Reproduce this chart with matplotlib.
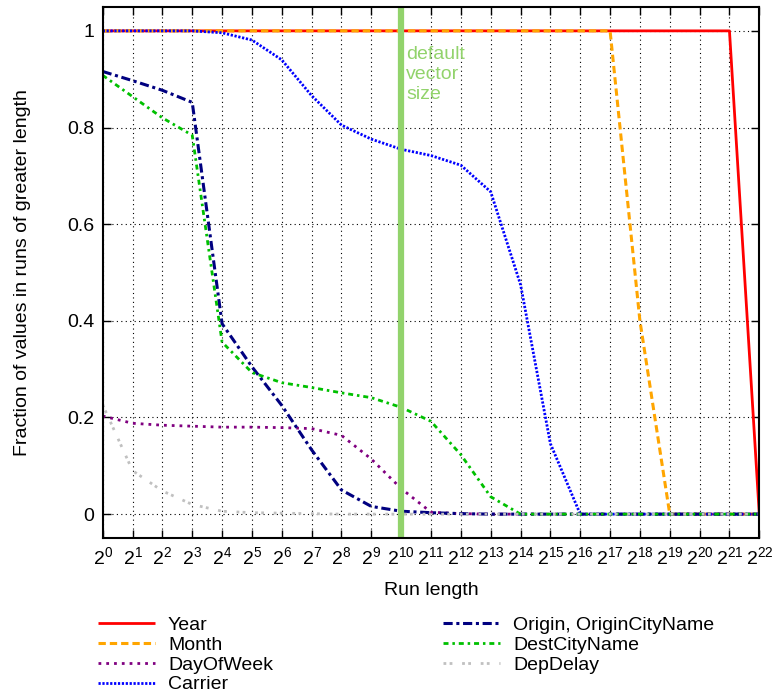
import numpy as np
import matplotlib
matplotlib.use("Agg")
import matplotlib.pyplot as plt

plt.rcParams['font.family'] = ['Liberation Sans', 'DejaVu Sans']
plt.rcParams['mathtext.fontset'] = 'custom'
plt.rcParams['mathtext.rm'] = 'Liberation Sans'
plt.rcParams['mathtext.it'] = 'Liberation Sans:italic'
plt.rcParams['mathtext.bf'] = 'Liberation Sans:bold'

# ---- data (exponent k -> run length 2^k) ----
exponents = list(range(0, 23))
year = [1.0] * 22 + [0.0]
month = [1.0] * 18 + [0.4, 0.0, 0.0, 0.0, 0.0]
day_of_week = [0.203, 0.188, 0.184, 0.182, 0.180, 0.180, 0.179, 0.177, 0.163, 0.114,
               0.053, 0.004, 0.001, 0.0, 0.0, 0.0, 0.0, 0.0, 0.0, 0.0, 0.0, 0.0, 0.0]
carrier = [1.0, 1.0, 1.0, 1.0, 0.996, 0.981, 0.94, 0.866, 0.805, 0.776, 0.755, 0.742,
           0.722, 0.667, 0.475, 0.146, 0.0, 0.0, 0.0, 0.0, 0.0, 0.0, 0.0]
origin = [0.916, 0.897, 0.877, 0.852, 0.394, 0.305, 0.225, 0.133, 0.05, 0.016, 0.006,
          0.003, 0.001, 0.0, 0.0, 0.0, 0.0, 0.0, 0.0, 0.0, 0.0, 0.0, 0.0]
dest_city = [0.908, 0.864, 0.82, 0.784, 0.356, 0.293, 0.272, 0.262, 0.251, 0.241, 0.221,
             0.192, 0.123, 0.036, 0.0, 0.0, 0.0, 0.0, 0.0, 0.0, 0.0, 0.0, 0.0]
dep_delay = [0.226, 0.09, 0.048, 0.02, 0.006, 0.003, 0.002, 0.001, 0.0, 0.0, 0.0, 0.0,
             0.0, 0.0, 0.0, 0.0, 0.0, 0.0, 0.0, 0.0, 0.0, 0.0, 0.0]
default_vector_exp = 10
labels = ["Year", "Month", "DayOfWeek", "Carrier",
          "Origin, OriginCityName", "DestCityName", "DepDelay"]

x = 2.0 ** np.array(exponents)

fig = plt.figure(figsize=(7.76, 6.97), dpi=100)
L, R, T, B = 102.7, 759.3, 6.7, 538.3
W, H = 776, 697
ax = fig.add_axes([L / W, 1 - B / H, (R - L) / W, (B - T) / H])

styles = [
    dict(color='#ff0000', lw=2.0, ls='-'),
    dict(color='#ffa500', lw=2.2, ls=(0, (2.4, 1.3))),
    dict(color='#800080', lw=2.0, ls=(0, (1.0, 1.8))),
    dict(color='#0000ff', lw=2.0, ls=(0, (0.8, 0.6))),
    dict(color='#000080', lw=2.2, ls=(0, (3.0, 1.2, 1.0, 1.2))),
    dict(color='#00c000', lw=2.0, ls=(0, (1.8, 1.4, 0.9, 1.4))),
    dict(color='#c0c0c0', lw=2.0, ls=(0, (1.0, 1.2, 1.0, 3.5))),
]
series = [year, month, day_of_week, carrier, origin, dest_city, dep_delay]
handles = []
for s, st, lab in zip(series, styles, labels):
    h, = ax.plot(x, s, label=lab, zorder=3, solid_capstyle='butt',
                 dash_capstyle='butt', **st)
    handles.append(h)

ax.axvline(2.0 ** default_vector_exp, color='#92d36c', lw=4.5, zorder=4)
ax.text(2.0 ** (default_vector_exp + 0.17), 0.968, "default\nvector\nsize",
        color='#92d36c', fontsize=14, va='top', ha='left', linespacing=1.22, zorder=5)

ax.set_xscale('log', base=2)
ax.set_xlim(1, 2.0 ** 22)
ax.set_ylim(-0.05, 1.05)
ax.set_xticks(x)
ax.set_xticklabels([r'$2^{%d}$' % k for k in exponents])
ax.xaxis.set_minor_locator(matplotlib.ticker.NullLocator())
yt = [0, 0.2, 0.4, 0.6, 0.8, 1.0]
ax.set_yticks(yt)
ax.set_yticklabels(['0', '0.2', '0.4', '0.6', '0.8', '1'])
ax.tick_params(direction='in', length=6, width=1, top=True, right=True,
               labelsize=14, colors='black')
ax.tick_params(axis='x', pad=6)
ax.tick_params(axis='y', pad=6)
ax.grid(True, color='black', lw=0.8, ls=(0, (1, 3)), zorder=1)
for sp in ax.spines.values():
    sp.set_linewidth(1.5)
    sp.set_zorder(6)

ax.set_xlabel("Run length", fontsize=14, labelpad=10)
ax.set_ylabel("Fraction of values in runs of greater length", fontsize=14, labelpad=26)

leg1 = fig.legend(handles[:4], labels[:4], loc='upper left',
                  bbox_to_anchor=(98.3 / W, 1 - 616 / H), frameon=False,
                  borderpad=0, borderaxespad=0, handlelength=2.9,
                  handletextpad=0.68, labelspacing=0.12, fontsize=14)
leg2 = fig.legend(handles[4:], labels[4:], loc='upper left',
                  bbox_to_anchor=(443.3 / W, 1 - 616 / H), frameon=False,
                  borderpad=0, borderaxespad=0, handlelength=2.9,
                  handletextpad=0.68, labelspacing=0.12, fontsize=14)

fig.savefig("out.png", dpi=100)
